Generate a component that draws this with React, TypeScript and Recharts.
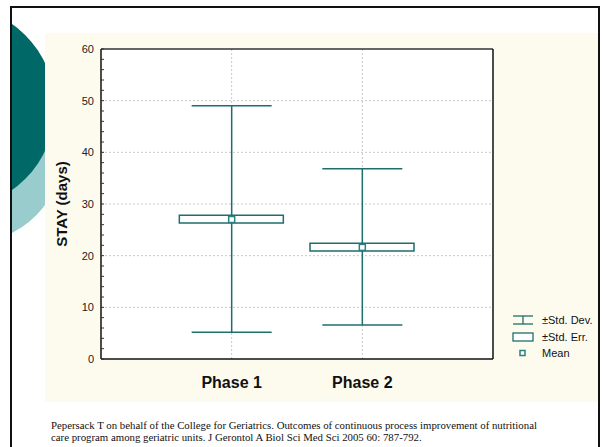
import React from "react";
import {
  ComposedChart,
  Bar,
  Scatter,
  ErrorBar,
  XAxis,
  YAxis,
  CartesianGrid,
  ReferenceLine,
  Label
} from "recharts";

const phases = ["Phase 1", "Phase 2"];
const phaseX = [1, 2];
const means = [27.0, 21.6];
const sdLow = [5.2, 6.6];
const sdHigh = [49.0, 36.8];
const seLow = [26.3, 20.9];
const seHigh = [27.8, 22.4];
const yTicks = [0, 2, 4, 6, 8, 10, 12, 14, 16, 18, 20, 22, 24, 26, 28, 30, 32, 34, 36, 38, 40, 42, 44, 46, 48, 50, 52, 54, 56, 58, 60];
const gridValues = [10, 20, 30, 40, 50];
const legendItems = ["±Std. Dev.", "±Std. Err.", "Mean"];

const TEAL = "#1f6e6e";

const rows = phases.map((name, i) => ({
  name,
  x: phaseX[i],
  mean: means[i],
  sd: [means[i] - sdLow[i], sdHigh[i] - means[i]],
  se: [seLow[i], seHigh[i]]
}));

const MeanSquare = (props: any) => {
  const { cx, cy } = props;
  return <rect x={cx - 3} y={cy - 3} width={6} height={6} fill="#fff" stroke="#2b8080" strokeWidth={1.5} />;
};

const font = "'Liberation Sans', Arial, sans-serif";

export default function App() {
  return (
    <div style={{ position: "fixed", left: 0, top: 0, width: 602, height: 447, overflow: "hidden", background: "#fff", fontFamily: font }}>
      {/* slide decoration */}
      <div style={{ position: "absolute", left: -30 - 93, top: 150 - 93, width: 186, height: 186, borderRadius: "50%", background: "#99cccc" }} />
      <div style={{ position: "absolute", left: -47 - 102, top: 107 - 102, width: 204, height: 204, borderRadius: "50%", background: "#006866" }} />
      <div style={{ position: "absolute", left: 0, top: 0, width: 10, height: 447, background: "#fff" }} />
      <div style={{ position: "absolute", left: 10, top: 6, width: 590, height: 480, border: "2.5px solid #111", boxSizing: "border-box" }} />
      <div style={{ position: "absolute", left: 45, top: 33, width: 553, height: 369, background: "#fdfbee" }} />

      <div style={{ position: "absolute", left: 0, top: 0 }}>
        <ComposedChart width={602} height={447} data={rows} margin={{ top: 49, right: 108, bottom: 58, left: 45 }}>
          <CartesianGrid fill="#fff" stroke="#c8c8c8" strokeDasharray="2 2" horizontalValues={gridValues} verticalValues={phaseX} />
          <XAxis
            dataKey="x"
            type="number"
            domain={[0, 3]}
            ticks={phaseX}
            tickFormatter={(v: number) => phases[phaseX.indexOf(v)] ?? ""}
            tickLine={false}
            axisLine={{ stroke: "#111", strokeWidth: 1.5 }}
            tickMargin={12}
            height={30}
            tick={{ fontSize: 16, fontWeight: "bold", fill: "#111", fontFamily: font }}
          />
          <YAxis
            type="number"
            domain={[0, 60]}
            ticks={yTicks}
            interval={0}
            tickFormatter={(v: number) => (v % 10 === 0 ? String(v) : "")}
            tickSize={-3}
            tickMargin={10}
            width={56}
            axisLine={{ stroke: "#111", strokeWidth: 1.5 }}
            tickLine={{ stroke: "#333" }}
            tick={{ fontSize: 11, fill: "#222", fontFamily: font }}
          >
            <Label value="STAY (days)" angle={-90} position="insideLeft" offset={17} style={{ textAnchor: "middle", fontSize: 15, fontWeight: "bold", fill: "#111", fontFamily: font }} />
          </YAxis>
          <YAxis
            yAxisId="right"
            orientation="right"
            type="number"
            domain={[0, 60]}
            ticks={yTicks}
            interval={0}
            tickFormatter={() => ""}
            tickSize={-3}
            width={1}
            axisLine={{ stroke: "#111", strokeWidth: 1.5 }}
            tickLine={{ stroke: "#333" }}
          />
          <ReferenceLine y={60} stroke="#333" strokeWidth={1.5} />
          <Scatter dataKey="mean" fill="none" shape={() => <g />} isAnimationActive={false}>
            <ErrorBar dataKey="sd" direction="y" width={40} stroke={TEAL} strokeWidth={1.5} isAnimationActive={false} />
          </Scatter>
          <Bar dataKey="se" barSize={104} fill="#fff" stroke={TEAL} strokeWidth={1.5} isAnimationActive={false} />
          <Scatter dataKey="mean" shape={MeanSquare} isAnimationActive={false} />
        </ComposedChart>
      </div>

      {/* legend */}
      <div style={{ position: "absolute", left: 512, top: 312, fontSize: 11, color: "#111" }}>
        {legendItems.map((label, i) => (
          <div key={label} style={{ display: "flex", alignItems: "center", height: 16.5 }}>
            <svg width={22} height={12} style={{ flex: "none" }}>
              {i === 0 && (
                <g stroke={TEAL} strokeWidth={1.3}>
                  <line x1={1} x2={21} y1={2} y2={2} />
                  <line x1={1} x2={21} y1={10} y2={10} />
                  <line x1={11} x2={11} y1={2} y2={10} />
                </g>
              )}
              {i === 1 && <rect x={1} y={2} width={20} height={8} fill="#fff" stroke={TEAL} strokeWidth={1.3} />}
              {i === 2 && <rect x={8} y={3.5} width={5} height={5} fill="#fff" stroke="#2b8080" strokeWidth={1.5} />}
            </svg>
            <span style={{ marginLeft: 8, whiteSpace: "nowrap" }}>{label}</span>
          </div>
        ))}
      </div>

      <div style={{ position: "absolute", left: 51, top: 419, fontFamily: "'Liberation Serif', 'Times New Roman', serif", fontSize: 10.8, lineHeight: "12px", color: "#111", whiteSpace: "nowrap" }}>
        Pepersack T on behalf of the College for Geriatrics. Outcomes of continuous process improvement of nutritional
        <br />
        care program among geriatric units. J Gerontol A Biol Sci Med Sci 2005 60: 787-792.
      </div>
    </div>
  );
}
